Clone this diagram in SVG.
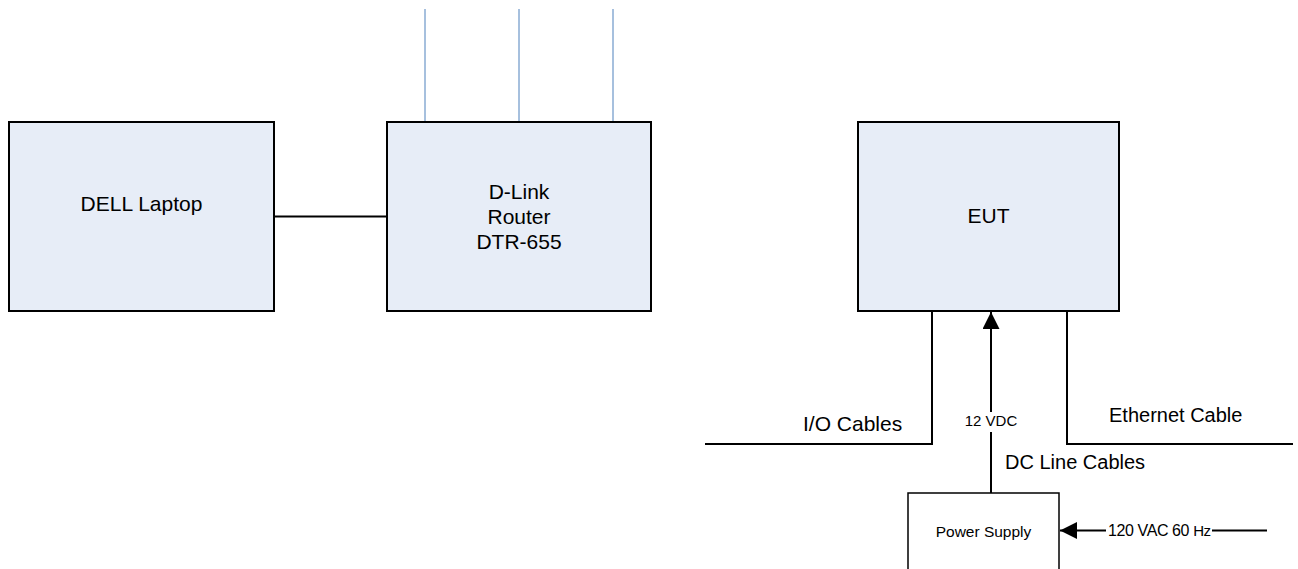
<svg xmlns="http://www.w3.org/2000/svg" width="1298" height="569" viewBox="0 0 1298 569">
<style>
.box{fill:#e7edf7;stroke:#000;stroke-width:2}
.psu{fill:#fff;stroke:#000;stroke-width:1.5}
.ln{stroke:#000;stroke-width:2;fill:none}
.ant{stroke:#4f81bd;stroke-width:1;fill:none}
text{font-family:"Liberation Sans",Arial,sans-serif;fill:#000}
.lbl{font-size:21px;text-anchor:middle}
.cab{font-size:20px}
.sm{font-size:15px;text-anchor:middle}
</style>
<defs>
<marker id="arr" markerUnits="userSpaceOnUse" markerWidth="18" markerHeight="18" refX="17" refY="8.5" orient="auto" viewBox="0 0 18 18">
<path d="M0,0 L17,8.5 L0,17 Z" fill="#000"/>
</marker>
</defs>
<g id="connectors">
<line class="ln" x1="274" y1="216.5" x2="387" y2="216.5"/>
<line class="ant" x1="425" y1="9" x2="425" y2="122"/>
<line class="ant" x1="519" y1="9" x2="519" y2="122"/>
<line class="ant" x1="613" y1="9" x2="613" y2="122"/>
<polyline class="ln" points="932,311 932,444 705,444"/>
<polyline class="ln" points="1067,311 1067,444 1293,444"/>
<line class="ln" x1="991" y1="493" x2="991" y2="312" marker-end="url(#arr)"/>
<line class="ln" x1="1267" y1="530.5" x2="1060" y2="530.5" marker-end="url(#arr)"/>
<rect x="962" y="412" width="58" height="20" fill="#fff"/>
<rect x="1106" y="521" width="106" height="19" fill="#fff"/>
<text class="sm" x="991" y="426">12 VDC</text>
<text x="1108" y="536" style="font-size:16px;letter-spacing:-0.4px">120 VAC 60 <tspan style="font-size:15px">Hz</tspan></text>
<text class="cab" x="803" y="431" style="font-size:21px">I/O Cables</text>
<text class="cab" x="1109" y="422">Ethernet Cable</text>
<text class="cab" x="1005" y="469">DC Line Cables</text>
</g>
<g id="laptop">
<rect class="box" x="9" y="122" width="265" height="189"/>
<text class="lbl" x="141.5" y="211">DELL Laptop</text>
</g>
<g id="router">
<rect class="box" x="387" y="122" width="264" height="189"/>
<text class="lbl" x="519" y="199">D-Link</text>
<text class="lbl" x="519" y="224">Router</text>
<text class="lbl" x="519" y="249">DTR-655</text>
</g>
<g id="eut">
<rect class="box" x="858" y="122" width="261" height="189"/>
<text class="lbl" x="988.5" y="223">EUT</text>
</g>
<g id="psu">
<rect class="psu" x="908" y="493" width="151" height="90"/>
<text x="983.5" y="537" style="font-size:15.5px;text-anchor:middle">Power Supply</text>
</g>
</svg>
